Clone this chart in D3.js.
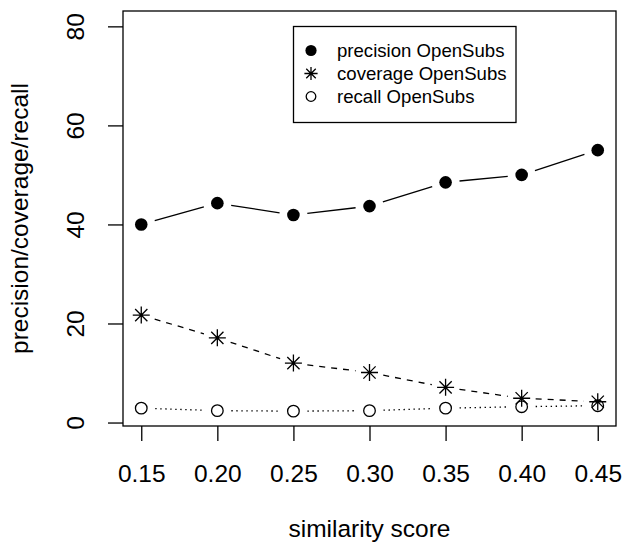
<!DOCTYPE html>
<html>
<head>
<meta charset="utf-8">
<script src="https://cdn.jsdelivr.net/npm/d3@7"></script>
<style>
  body { margin: 0; background: #fff; }
  svg text { font-family: "Liberation Sans", Arial, Helvetica, sans-serif; fill: #000; }
</style>
</head>
<body>
<svg id="chart" width="636" height="545"></svg>
<script>
// values
var scores = [0.15, 0.20, 0.25, 0.30, 0.35, 0.40, 0.45];
var precision = [40.0, 44.3, 41.9, 43.7, 48.5, 50.0, 55.0];
var coverage = [21.7, 17.1, 12.0, 10.1, 7.1, 4.9, 4.2];
var recall = [2.9, 2.4, 2.3, 2.4, 2.9, 3.2, 3.4];
var yTicks = [0, 20, 40, 60, 80];
var legendLabels = ["precision OpenSubs", "coverage OpenSubs", "recall OpenSubs"];

var svg = d3.select("#chart");

// plot region (R style box)
var plotLeft = 123, plotRight = 616, plotTop = 11, plotBottom = 426;

var x = d3.scaleLinear().domain([0.138, 0.462]).range([plotLeft, plotRight]);
var y = d3.scaleLinear().domain([-0.7, 83.1]).range([plotBottom, plotTop]);

var axisFont = 24.5;

// box
svg.append("rect")
    .attr("x", plotLeft).attr("y", plotTop)
    .attr("width", plotRight - plotLeft).attr("height", plotBottom - plotTop)
    .attr("fill", "none").attr("stroke", "#000").attr("stroke-width", 1.3);

// x axis
var xAxis = d3.axisBottom(x)
    .tickValues(scores)
    .tickSize(15)
    .tickPadding(0)
    .tickFormat(d3.format(".2f"));

var gx = svg.append("g").attr("transform", "translate(0," + plotBottom + ")").call(xAxis);
gx.select(".domain").remove();
gx.selectAll("line").attr("stroke", "#000").attr("stroke-width", 1.3);
gx.selectAll("text")
    .attr("font-size", axisFont)
    .attr("dy", null)
    .attr("y", 56);

// y axis
var yAxis = d3.axisLeft(y).tickValues(yTicks).tickSize(15).tickPadding(0);
var gy = svg.append("g").attr("transform", "translate(" + plotLeft + ",0)").call(yAxis);
gy.select(".domain").remove();
gy.selectAll("line").attr("stroke", "#000").attr("stroke-width", 1.3);
gy.selectAll("text")
    .attr("font-size", axisFont)
    .attr("x", null).attr("dy", null)
    .attr("text-anchor", "middle")
    .attr("transform", "translate(-39,0) rotate(-90)");

// axis titles
svg.append("text")
    .attr("x", (plotLeft + plotRight) / 2).attr("y", 537)
    .attr("text-anchor", "middle")
    .attr("font-size", axisFont)
    .text("similarity score");

svg.append("text")
    .attr("transform", "translate(28," + ((plotTop + plotBottom) / 2) + ") rotate(-90)")
    .attr("text-anchor", "middle")
    .attr("font-size", axisFont)
    .text("precision/coverage/recall");

// type="b" lines: segments with a gap around every point
function gappedLine(values, dash) {
    var pts = scores.map(function(s, i) { return [x(s), y(values[i])]; });
    var gap = 14;
    var segs = [];
    for (var i = 0; i < pts.length - 1; i++) {
        var dx = pts[i + 1][0] - pts[i][0], dy = pts[i + 1][1] - pts[i][1];
        var len = Math.sqrt(dx * dx + dy * dy);
        if (len <= 2 * gap) continue;
        var ux = dx / len, uy = dy / len;
        segs.push([pts[i][0] + ux * gap, pts[i][1] + uy * gap,
                   pts[i + 1][0] - ux * gap, pts[i + 1][1] - uy * gap]);
    }
    svg.append("g").selectAll("line")
        .data(segs).enter().append("line")
        .attr("x1", function(d) { return d[0]; })
        .attr("y1", function(d) { return d[1]; })
        .attr("x2", function(d) { return d[2]; })
        .attr("y2", function(d) { return d[3]; })
        .attr("stroke", "#000")
        .attr("stroke-width", 1.3)
        .attr("stroke-dasharray", dash);
}

gappedLine(precision, null);
gappedLine(coverage, "6,6");
gappedLine(recall, "1.4,3.6");

// symbols
function filledDot(g, cx, cy, r) {
    g.append("circle").attr("cx", cx).attr("cy", cy).attr("r", r).attr("fill", "#000");
}
function openDot(g, cx, cy, r) {
    g.append("circle").attr("cx", cx).attr("cy", cy).attr("r", r)
        .attr("fill", "none").attr("stroke", "#000").attr("stroke-width", 1.3);
}
function star(g, cx, cy, s) {
    var p = s, q = s * 0.72;
    var path = "M" + (cx - p) + "," + cy + "L" + (cx + p) + "," + cy +
        "M" + cx + "," + (cy - p) + "L" + cx + "," + (cy + p) +
        "M" + (cx - q) + "," + (cy - q) + "L" + (cx + q) + "," + (cy + q) +
        "M" + (cx - q) + "," + (cy + q) + "L" + (cx + q) + "," + (cy - q);
    g.append("path").attr("d", path).attr("stroke", "#000").attr("stroke-width", 1.3).attr("fill", "none");
}

var gp = svg.append("g");
scores.forEach(function(s, i) {
    filledDot(gp, x(s), y(precision[i]), 6.3);
    star(gp, x(s), y(coverage[i]), 8.5);
    openDot(gp, x(s), y(recall[i]), 5.8);
});

// legend
var lg = svg.append("g");
lg.append("rect")
    .attr("x", 293.5).attr("y", 26.5)
    .attr("width", 222.5).attr("height", 96)
    .attr("fill", "#fff").attr("stroke", "#000").attr("stroke-width", 1.3);

var rowY = [50.5, 73.5, 96.5];
filledDot(lg, 311, rowY[0], 5.6);
star(lg, 311, rowY[1], 6.6);
openDot(lg, 311, rowY[2], 4.8);

lg.selectAll("text.leg")
    .data(legendLabels).enter().append("text")
    .attr("class", "leg")
    .attr("x", 337)
    .attr("y", function(d, i) { return rowY[i]; })
    .attr("dy", "0.35em")
    .attr("font-size", 18.6)
    .text(function(d) { return d; });
</script>
</body>
</html>
